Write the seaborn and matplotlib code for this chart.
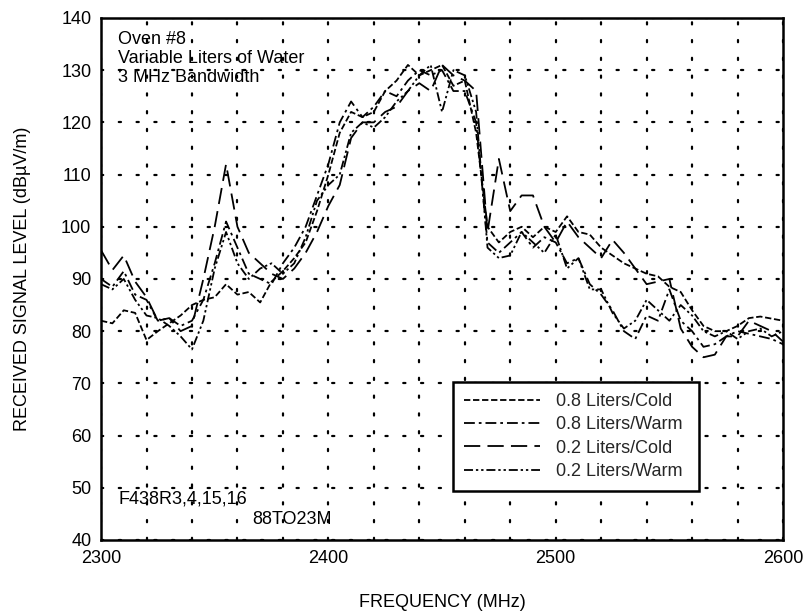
import numpy as np
import pandas as pd
import matplotlib
matplotlib.use("Agg")
import matplotlib.pyplot as plt
import seaborn as sns

# ---------------- data ----------------
freq = list(range(2300, 2601, 5))

cold_08 = [82, 81.5, 84, 83.5, 78.3, 80, 81.5, 83, 85, 86,
           86.5, 89, 87, 87.5, 85.5, 89.5, 91.5, 94, 97, 103,
           110, 118, 122, 121, 122, 126, 128, 131, 129, 130,
           131, 127, 128, 118, 100, 97, 99, 100, 98, 100,
           99, 102, 99, 98.5, 96, 94.5, 93, 92, 91, 90.5,
           88.5, 87.5, 84, 81, 80, 80, 81, 82.5, 82.8, 82.4, 82]

warm_08 = [90, 88.5, 91.5, 87, 86, 82, 82.5, 81, 82, 86,
           93, 101, 96, 91, 90, 89, 93, 96, 100, 106,
           112, 120, 124, 121, 123, 126, 125, 128, 130, 129,
           130, 126, 126, 120, 97, 95, 97, 99, 96, 98,
           97, 93, 94, 89, 87, 84, 80, 78.5, 83, 82,
           88, 82, 80, 77, 77.5, 79, 80, 79.5, 79, 78.5, 77.5]

cold_02 = [95.5, 91.7, 94.5, 89.5, 86.5, 82, 82.5, 80, 81, 90,
           100, 112, 100, 95, 93, 91, 90, 92, 95, 99,
           104, 108, 117, 120, 120, 122, 123, 126, 127.5, 126,
           131, 129, 128, 126, 99, 113, 103, 106, 106, 100,
           97, 101, 98, 96, 94, 97.5, 95, 92, 89, 89.5,
           90, 80.5, 77, 75, 75.5, 79, 79, 82, 81, 80, 78]

warm_02 = [89, 88, 90, 86, 83, 82.5, 81, 79, 76.5, 82,
           92, 99, 93, 90, 92, 93, 91, 93, 98, 105,
           108, 110, 118, 120, 119, 121, 124, 126, 129, 131,
           122, 130, 129, 122, 96, 94, 94.5, 99, 97, 95,
           98.5, 92, 94, 88, 88, 83.5, 80.5, 82, 86, 84,
           82, 85, 83, 80, 79, 80, 78.5, 80, 80.5, 79, 80]

series_names = ["0.8 Liters/Cold", "0.8 Liters/Warm",
                "0.2 Liters/Cold", "0.2 Liters/Warm"]
series_values = [cold_08, warm_08, cold_02, warm_02]

x_ticks = [2300, 2400, 2500, 2600]
y_ticks = [40, 50, 60, 70, 80, 90, 100, 110, 120, 130, 140]

df = pd.concat([pd.DataFrame({"freq": freq, "level": v, "series": n})
                for n, v in zip(series_names, series_values)],
               ignore_index=True)

# ---------------- style ----------------
sns.set_theme(style="white")
plt.rcParams["font.family"] = ["Liberation Sans", "DejaVu Sans"]
plt.rcParams["font.size"] = 13

dash_map = {
    "0.8 Liters/Cold": (3.5, 1.5),
    "0.8 Liters/Warm": (6, 2.2, 1.5, 2.2),
    "0.2 Liters/Cold": (9, 4),
    "0.2 Liters/Warm": (5, 1.6, 1.3, 1.6, 1.3, 1.6),
}

fig = plt.figure(figsize=(8.07, 6.15), dpi=100)
ax = fig.add_axes([0.1252, 0.1220, 0.8451, 0.8488])

sns.lineplot(data=df, x="freq", y="level", style="series",
             style_order=series_names, dashes=dash_map,
             color="black", linewidth=1.3, ax=ax, legend=False)

ax.set_xlim(2300, 2600)
ax.set_ylim(40, 140)
ax.set_xticks(np.arange(2300, 2601, 20))
ax.set_xticklabels([str(t) if t in x_ticks else "" for t in np.arange(2300, 2601, 20)])
ax.set_yticks(y_ticks)
ax.set_yticklabels([str(t) for t in y_ticks])
ax.tick_params(axis="both", length=0, pad=7, labelsize=13, colors="black")

ax.grid(True, color="black", linestyle=(0, (1, 7)), linewidth=1.6,
        dash_capstyle="round")
for sp in ax.spines.values():
    sp.set_visible(True)
    sp.set_color("black")
    sp.set_linewidth(1.8)

ax.set_xlabel("FREQUENCY (MHz)", fontsize=13, labelpad=20, color="black")
ax.set_ylabel("RECEIVED SIGNAL LEVEL (dB\u00b5V/m)", fontsize=13,
              labelpad=22, color="black")

ax.text(0.025, 0.975, "Oven #8\nVariable Liters of Water\n3 MHz Bandwidth",
        transform=ax.transAxes, ha="left", va="top", fontsize=13,
        linespacing=1.15, color="black")
ax.text(0.025, 0.078, "F438R3,4,15,16", transform=ax.transAxes,
        ha="left", va="center", fontsize=13, color="black")
ax.text(0.222, 0.04, "88TO23M", transform=ax.transAxes,
        ha="left", va="center", fontsize=13, color="black")

# legend
handles = []
for n in series_names:
    h, = ax.plot([], [], color="black", linewidth=1.3, dashes=dash_map[n])
    handles.append(h)
leg = ax.legend(handles, series_names, loc="lower left",
                bbox_to_anchor=(0.516, 0.094, 0.361, 0.234), mode="expand",
                fontsize=13, frameon=True, fancybox=False, handlelength=4.2,
                handletextpad=0.9, borderpad=0.6, labelspacing=0.35,
                borderaxespad=0)
leg.get_frame().set_edgecolor("black")
leg.get_frame().set_linewidth(1.8)
leg.get_frame().set_facecolor("white")
leg.get_frame().set_alpha(1)

fig.savefig("out.png", dpi=100, facecolor="white")
